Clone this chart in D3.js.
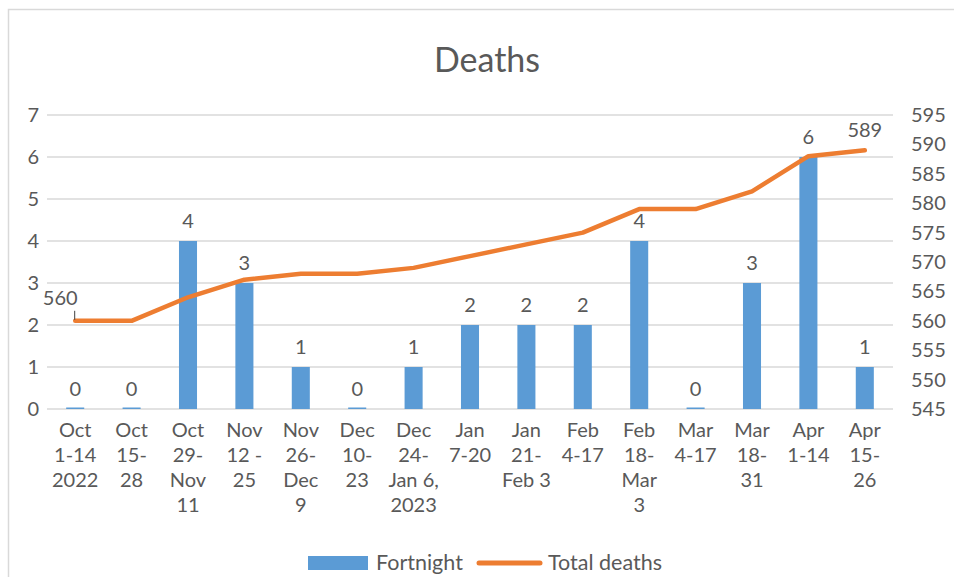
<html>
<head>
<script src="https://d3js.org/d3.v7.min.js"></script>
<style>
body { margin: 0; background: white; }
text { font-family: Lato, "Open Sans", sans-serif; fill: #595959; }
</style>
</head>
<body>
<svg id="chart" width="954" height="577"></svg>
<script>
var categories = ["Oct 1-14 2022", "Oct 15-28", "Oct 29-Nov 11", "Nov 12 - 25", "Nov 26-Dec 9",
  "Dec 10-23", "Dec 24-Jan 6, 2023", "Jan 7-20", "Jan 21-Feb 3", "Feb 4-17", "Feb 18-Mar 3",
  "Mar 4-17", "Mar 18-31", "Apr 1-14", "Apr 15-26"];
// label lines as they wrap under each bar
var catLines = [["Oct","1-14","2022"],["Oct","15-","28"],["Oct","29-","Nov","11"],["Nov","12 -","25"],
  ["Nov","26-","Dec","9"],["Dec","10-","23"],["Dec","24-","Jan 6,","2023"],["Jan","7-20"],
  ["Jan","21-","Feb 3"],["Feb","4-17"],["Feb","18-","Mar","3"],["Mar","4-17"],["Mar","18-","31"],
  ["Apr","1-14"],["Apr","15-","26"]];
var fortnight = [0, 0, 4, 3, 1, 0, 1, 2, 2, 2, 4, 0, 3, 6, 1];
var totalDeaths = [560, 560, 564, 567, 568, 568, 569, 571, 573, 575, 579, 579, 582, 588, 589];
var leftTicks = [0, 1, 2, 3, 4, 5, 6, 7];
var rightTicks = [545, 550, 555, 560, 565, 570, 575, 580, 585, 590, 595];

var svg = d3.select("#chart");

// outer chart border
svg.append("rect").attr("x", 8.5).attr("y", 9.5).attr("width", 960).attr("height", 600)
  .attr("fill", "none").attr("stroke", "#d9d9d9").attr("stroke-width", 1.5);

var x = d3.scaleBand().domain(categories).range([47, 893]).paddingInner(0.68).paddingOuter(0.34);
var y = d3.scaleLinear().domain([0, 7]).range([409, 115]);
var y2 = d3.scaleLinear().domain([545, 595]).range([409, 115]);

// gridlines
svg.append("g").selectAll("line").data(leftTicks).enter().append("line")
  .attr("x1", 47).attr("x2", 893)
  .attr("y1", function(d) { return y(d); }).attr("y2", function(d) { return y(d); })
  .attr("stroke", "#d9d9d9").attr("stroke-width", 1.3);

// left axis
var la = svg.append("g").attr("transform", "translate(39,0)")
  .call(d3.axisLeft(y).tickValues(leftTicks).tickFormat(d3.format("d")).tickSize(0).tickPadding(0));
la.select(".domain").remove();
la.selectAll("text").attr("font-size", 20).attr("fill", "#595959").style("font-family", "Lato");

// right axis
var ra = svg.append("g").attr("transform", "translate(911,0)")
  .call(d3.axisRight(y2).tickValues(rightTicks).tickSize(0).tickPadding(0));
ra.select(".domain").remove();
ra.selectAll("text").attr("font-size", 20).attr("fill", "#595959").style("font-family", "Lato");

// bars
svg.append("g").selectAll("rect").data(fortnight).enter().append("rect")
  .attr("x", function(d, i) { return x(categories[i]); })
  .attr("width", x.bandwidth())
  .attr("y", function(d) { return d === 0 ? y(0) - 1.5 : y(d); })
  .attr("height", function(d) { return d === 0 ? 1.5 : y(0) - y(d); })
  .attr("fill", "#5b9bd5");

// bar labels
svg.append("g").selectAll("text").data(fortnight).enter().append("text")
  .attr("x", function(d, i) { return x(categories[i]) + x.bandwidth() / 2; })
  .attr("y", function(d) { return y(d) - 13; })
  .attr("text-anchor", "middle").attr("font-size", 20).attr("fill", "#404040")
  .text(function(d) { return d; });

// total deaths line
var cx = function(i) { return x(categories[i]) + x.bandwidth() / 2; };
var line = d3.line().x(function(d, i) { return cx(i); }).y(function(d) { return y2(d); });
svg.append("path").datum(totalDeaths).attr("d", line)
  .attr("fill", "none").attr("stroke", "#ed7d31").attr("stroke-width", 4.5)
  .attr("stroke-linejoin", "round").attr("stroke-linecap", "round");

// line labels: first and last
var first = 0, last = totalDeaths.length - 1;
svg.append("line").attr("x1", cx(first) - 0.5).attr("x2", cx(first) - 0.5)
  .attr("y1", y2(totalDeaths[first]) - 10).attr("y2", y2(totalDeaths[first]) - 1)
  .attr("stroke", "#404040").attr("stroke-width", 1);
svg.append("text").attr("x", cx(first) - 15).attr("y", y2(totalDeaths[first]) - 16)
  .attr("text-anchor", "middle").attr("font-size", 20).attr("fill", "#404040")
  .text(totalDeaths[first]);
svg.append("text").attr("x", cx(last)).attr("y", y2(totalDeaths[last]) - 13)
  .attr("text-anchor", "middle").attr("font-size", 20).attr("fill", "#404040")
  .text(totalDeaths[last]);

// category labels
var cl = svg.append("g").selectAll("text").data(catLines).enter().append("text")
  .attr("text-anchor", "middle").attr("font-size", 20).attr("fill", "#595959");
cl.each(function(lines, i) {
  var t = d3.select(this);
  lines.forEach(function(s, j) {
    t.append("tspan").attr("x", cx(i)).attr("y", 437 + j * 25).text(s);
  });
});

// title
svg.append("text").attr("x", 487).attr("y", 72).attr("text-anchor", "middle")
  .attr("font-size", 34).attr("fill", "#595959").text("Deaths");

// legend
svg.append("rect").attr("x", 308).attr("y", 556).attr("width", 60).attr("height", 14).attr("fill", "#5b9bd5");
svg.append("text").attr("x", 376).attr("y", 570).attr("font-size", 21.5).text("Fortnight");
svg.append("line").attr("x1", 479).attr("x2", 540).attr("y1", 563).attr("y2", 563)
  .attr("stroke", "#ed7d31").attr("stroke-width", 5).attr("stroke-linecap", "round");
svg.append("text").attr("x", 548).attr("y", 570).attr("font-size", 21.5).text("Total deaths");
</script>
</body>
</html>
